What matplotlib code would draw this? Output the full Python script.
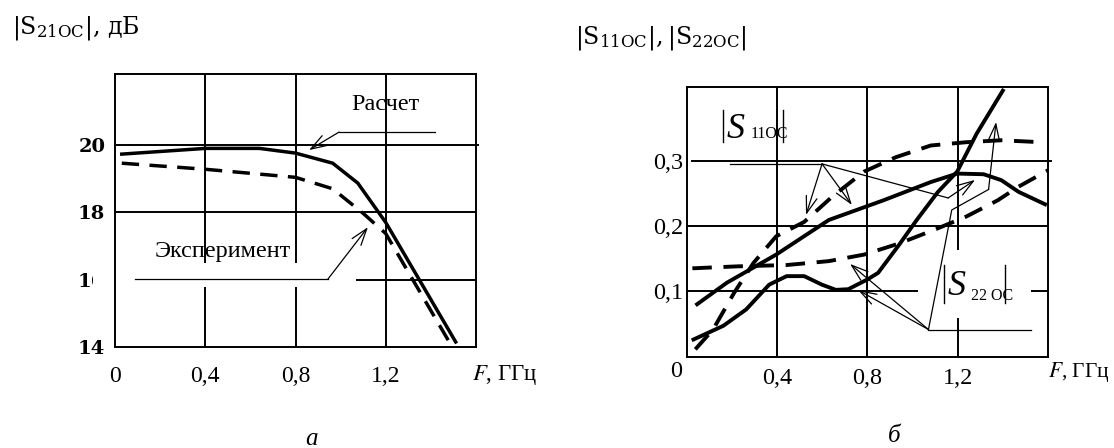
import matplotlib.pyplot as plt
from matplotlib.patches import Rectangle

# панель а: |S21oc|, дБ
f_calc_a = [0.03, 0.4, 0.64, 0.8, 0.965, 1.076, 1.2, 1.51]
s21_calc = [19.73, 19.9, 19.9, 19.76, 19.46, 18.87, 17.7, 14.15]
f_exp_a = [0.03, 0.4, 0.8, 0.965, 1.1, 1.2, 1.484]
s21_exp = [19.46, 19.28, 19.04, 18.7, 17.97, 17.37, 14.12]

# панель б: |S11oc|, |S22oc|
f_s11_calc = [0.047, 0.179, 0.397, 0.63, 0.871, 1.081, 1.198, 1.315, 1.393, 1.47, 1.587]
s11_calc = [0.080, 0.113, 0.156, 0.209, 0.239, 0.267, 0.280, 0.279, 0.270, 0.252, 0.233]
f_s11_exp = [0.039, 0.117, 0.21, 0.296, 0.397, 0.521, 0.646, 0.786, 0.926, 1.081, 1.237, 1.393, 1.572]
s11_exp = [0.011, 0.041, 0.097, 0.143, 0.184, 0.206, 0.245, 0.283, 0.305, 0.323, 0.328, 0.331, 0.328]
f_s22_calc = [0.031, 0.163, 0.264, 0.366, 0.443, 0.521, 0.599, 0.661, 0.716, 0.801,
              0.848, 0.941, 1.019, 1.113, 1.198, 1.284, 1.40]
s22_calc = [0.026, 0.047, 0.072, 0.110, 0.123, 0.123, 0.110, 0.102, 0.103, 0.118,
            0.128, 0.171, 0.209, 0.252, 0.283, 0.341, 0.407]
f_s22_exp = [0.026, 0.226, 0.443, 0.63, 0.786, 0.941, 1.097, 1.237, 1.377, 1.47, 1.6]
s22_exp = [0.135, 0.138, 0.140, 0.146, 0.156, 0.173, 0.194, 0.214, 0.239, 0.26, 0.285]

x_ticks = [0.4, 0.8, 1.2]
x_labels = ['0,4', '0,8', '1,2']
y_ticks_a = [14, 16, 18, 20]
y_ticks_b = [0.1, 0.2, 0.3]
y_labels_b = ['0,1', '0,2', '0,3']

W, H = 1114, 448
times = 'Liberation Serif'
arrow = dict(arrowstyle='->,head_length=0.6,head_width=0.2', lw=0.9, color='black',
             shrinkA=0, shrinkB=0, mutation_scale=20)

fig = plt.figure(figsize=(W / 100, H / 100), dpi=100)
ax1 = fig.add_axes([115 / W, 1 - 347 / H, 361 / W, 273 / H])
ax2 = fig.add_axes([686.5 / W, 1 - 356.5 / H, 361.5 / W, 269.8 / H])

for ax in (ax1, ax2):
    ax.set_xlim(0, 1.6)
    for s in ax.spines.values():
        s.set_linewidth(1.4)
    ax.tick_params(length=0)
    for x in x_ticks:
        ax.axvline(x, color='black', lw=1.4, zorder=1)

# --- а ---
ax1.set_ylim(14, 22.11)
for y in [16, 18]:
    ax1.axhline(y, color='black', lw=1.4, zorder=1)
ax1.axhline(20, xmax=1.006, color='black', lw=1.4, zorder=1, clip_on=False)
ax1.add_patch(Rectangle((-0.0975, 15.78), 1.165, 0.71, facecolor='white',
                        edgecolor='none', zorder=1.6, clip_on=False))
ax1.plot(f_calc_a, s21_calc, color='black', lw=2.5, zorder=3)
ax1.plot(f_exp_a, s21_exp, color='black', lw=2.5, ls=(0, (5, 3)), zorder=3)

ax1.set_xticks([0] + x_ticks, ['0'] + x_labels, family=times, fontsize=17)
ax1.set_yticks(y_ticks_a, [str(v) for v in y_ticks_a], family='DejaVu Serif',
               fontweight='bold', fontsize=14)
ax1.tick_params(axis='x', pad=14)
ax1.tick_params(axis='y', pad=7)

ax1.text(1.2, 21.19, 'Расчет', family=times, fontsize=17.5, ha='center', va='center')
ax1.plot([1.418, 0.993], [20.385, 20.385], color='black', lw=0.9, zorder=3)
ax1.annotate('', xy=(0.86, 19.85), xytext=(0.993, 20.385), arrowprops=arrow)
ax1.text(0.479, 16.85, 'Эксперимент', family=times, fontsize=17.5, ha='center', va='center')
ax1.plot([0.0886, 0.944], [16.02, 16.02], color='black', lw=0.9, zorder=3)
ax1.annotate('', xy=(1.121, 17.56), xytext=(0.944, 16.02), arrowprops=arrow)

# --- б ---
ax2.set_ylim(0, 0.413)
for y in [0.1, 0.2]:
    ax2.axhline(y, color='black', lw=1.4, zorder=1)
ax2.axhline(0.3, xmin=0.015, xmax=1.009, color='black', lw=1.4, zorder=1, clip_on=False)
ax2.add_patch(Rectangle((1.025, 0.059), 0.5, 0.104, facecolor='white',
                        edgecolor='none', zorder=1.6))
ax2.plot(f_s11_calc, s11_calc, color='black', lw=2.8, zorder=3)
ax2.plot(f_s22_calc, s22_calc, color='black', lw=2.8, zorder=3)
ax2.plot(f_s11_exp, s11_exp, color='black', lw=2.8, ls=(0, (5, 3)), zorder=3)
ax2.plot(f_s22_exp, s22_exp, color='black', lw=2.8, ls=(0, (5, 3)), zorder=3)

ax2.set_xticks(x_ticks, x_labels, family=times, fontsize=17.5)
ax2.set_yticks(y_ticks_b, y_labels_b, family=times, fontsize=17.5)
ax2.tick_params(axis='x', pad=8)
ax2.tick_params(axis='y', pad=2.5)
ax2.annotate('0', xy=(0, 0), xytext=(-7.5, -10.5), textcoords='offset points',
             family=times, fontsize=17.5, ha='center', va='center')

# подписи |S11oc| и |S22oc|
for (xl, xr, yb, yt, xs, ys, xsub, ysub, sub) in [
        (0.1616, 0.4272, 0.329, 0.3775, 0.176, 0.3346, 0.283, 0.3346, '11OC'),
        (1.1398, 1.4098, 0.0819, 0.1401, 1.1546, 0.0942, 1.258, 0.0865, '22 OC')]:
    ax2.plot([xl, xl], [yb, yt], color='black', lw=1.0, zorder=3)
    ax2.plot([xr, xr], [yb, yt], color='black', lw=1.0, zorder=3)
    ax2.text(xs, ys, 'S', family=times, style='italic', fontsize=26, va='baseline', zorder=3)
    ax2.text(xsub, ysub, sub, family=times, fontsize=11.5, va='baseline', zorder=3)

ax2.plot([0.192, 0.600], [0.2948, 0.2948], color='black', lw=0.9, zorder=3)
ax2.annotate('', xy=(0.529, 0.2167), xytext=(0.600, 0.2948), arrowprops=arrow)
ax2.annotate('', xy=(0.732, 0.232), xytext=(0.600, 0.2948), arrowprops=arrow)
ax2.plot([0.600, 1.158], [0.2948, 0.2427], color='black', lw=0.9, zorder=3)
ax2.annotate('', xy=(1.277, 0.2703), xytext=(1.158, 0.2427), arrowprops=arrow)

ax2.plot([1.524, 1.071], [0.0413, 0.0413], color='black', lw=0.9, zorder=3)
ax2.annotate('', xy=(0.7238, 0.1417), xytext=(1.071, 0.0413), arrowprops=arrow)
ax2.annotate('', xy=(0.759, 0.1018), xytext=(1.071, 0.0413), arrowprops=arrow)
ax2.plot([1.071, 1.174, 1.337], [0.0413, 0.2243, 0.2557], color='black', lw=0.9, zorder=3)
ax2.annotate('', xy=(1.370, 0.359), xytext=(1.337, 0.2557), arrowprops=arrow)

# подписи осей
fig.text(12 / W, 1 - 28 / H, r'$|\mathrm{S}_{21\mathrm{OC}}|$, дБ', family='DejaVu Serif',
         math_fontfamily='dejavuserif', fontsize=17, va='center')
fig.text(575 / W, 1 - 38 / H, r'$|\mathrm{S}_{11\mathrm{OC}}|, |\mathrm{S}_{22\mathrm{OC}}|$',
         family='DejaVu Serif', math_fontfamily='dejavuserif', fontsize=17, va='center')
fig.text(472 / W, 1 - 375 / H, r'$F$, ГГц', family=times, math_fontfamily='stix',
         fontsize=16.5, va='center')
fig.text(1110 / W, 1 - 372 / H, r'$F$, ГГц', family=times, math_fontfamily='stix',
         fontsize=15.5, ha='right', va='center')
fig.text(312 / W, 1 - 439 / H, 'а', family=times, style='italic', fontsize=18,
         ha='center', va='center')
fig.text(894 / W, 1 - 436 / H, 'б', family=times, style='italic', fontsize=18,
         ha='center', va='center')

fig.savefig('out.png', dpi=100)
